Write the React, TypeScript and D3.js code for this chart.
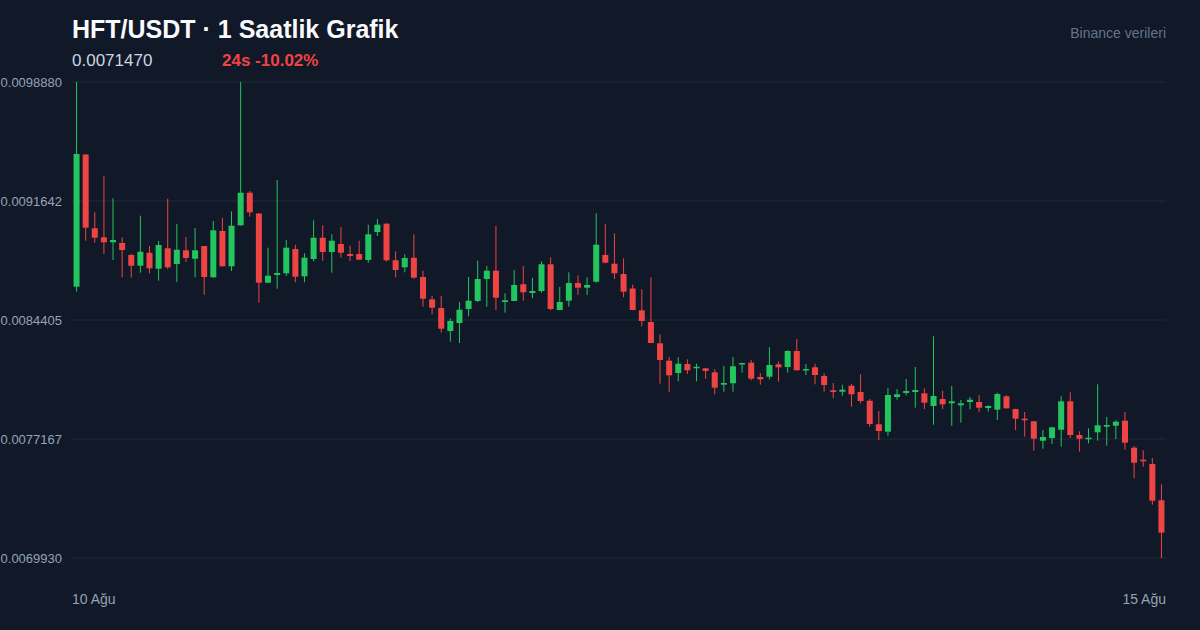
import * as d3 from "d3";

// saatlik mumlar, 10 Ağu - 15 Ağu (120 adet)
const opens = [
  0.0086430, 0.0094470, 0.0089982, 0.0089435, 0.0089131, 0.0089088, 0.0088358, 0.0087707, 0.0088498, 0.0087525,
  0.0088766, 0.0087811, 0.0088644, 0.0088133, 0.0088906, 0.0087002, 0.0089818, 0.0087671, 0.0090165, 0.0092147,
  0.0090882, 0.0086674, 0.0087142, 0.0087245, 0.0088723, 0.0087063, 0.0088115, 0.0089410, 0.0088541, 0.0089027,
  0.0088419, 0.0088419, 0.0088054, 0.0089757, 0.0090262, 0.0088036, 0.0087610, 0.0088194, 0.0087020, 0.0085664,
  0.0085135, 0.0083736, 0.0084223, 0.0085074, 0.0085561, 0.0086899, 0.0087403, 0.0085500, 0.0085561, 0.0086576,
  0.0086047, 0.0086169, 0.0087793, 0.0085013, 0.0085579, 0.0086655, 0.0086370, 0.0086734, 0.0088358, 0.0087829,
  0.0087203, 0.0086321, 0.0084995, 0.0084283, 0.0082988, 0.0081930, 0.0081182, 0.0081729, 0.0081467, 0.0081467,
  0.0081224, 0.0080470, 0.0080556, 0.0081711, 0.0081808, 0.0080938, 0.0080957, 0.0081711, 0.0081547, 0.0082520,
  0.0081346, 0.0081528, 0.0080999, 0.0080130, 0.0080044, 0.0080409, 0.0080026, 0.0079497, 0.0078062, 0.0077612,
  0.0079722, 0.0079965, 0.0080026, 0.0079947, 0.0079175, 0.0079600, 0.0079339, 0.0079217, 0.0079418, 0.0079418,
  0.0079053, 0.0078950, 0.0079765, 0.0078992, 0.0078402, 0.0078244, 0.0077064, 0.0077228, 0.0077733, 0.0079460,
  0.0077411, 0.0077149, 0.0077575, 0.0077916, 0.0077976, 0.0078281, 0.0076639, 0.0075909, 0.0075647, 0.0073440,
];
const highs = [
  0.0098880, 0.0094501, 0.0090955, 0.0093163, 0.0091807, 0.0089435, 0.0088419, 0.0090748, 0.0088906, 0.0089210,
  0.0091782, 0.0090244, 0.0089453, 0.0090000, 0.0088906, 0.0090426, 0.0090609, 0.0091016, 0.0098880, 0.0092251,
  0.0090900, 0.0088802, 0.0092920, 0.0089271, 0.0088985, 0.0088462, 0.0090469, 0.0090165, 0.0089617, 0.0090061,
  0.0088924, 0.0089228, 0.0090201, 0.0090548, 0.0090286, 0.0088583, 0.0088401, 0.0089617, 0.0087403, 0.0085865,
  0.0085865, 0.0084508, 0.0085500, 0.0087020, 0.0088012, 0.0087689, 0.0090122, 0.0086029, 0.0087446, 0.0087689,
  0.0086978, 0.0087975, 0.0088218, 0.0086412, 0.0087306, 0.0087124, 0.0087002, 0.0090895, 0.0090244, 0.0089678,
  0.0088158, 0.0086552, 0.0086272, 0.0087002, 0.0083535, 0.0082155, 0.0082137, 0.0082015, 0.0081747, 0.0081480,
  0.0081407, 0.0081607, 0.0082155, 0.0081800, 0.0081972, 0.0081182, 0.0082745, 0.0081893, 0.0082562, 0.0083250,
  0.0081729, 0.0081747, 0.0081164, 0.0080574, 0.0080470, 0.0080513, 0.0081103, 0.0079600, 0.0078870, 0.0080269,
  0.0080209, 0.0080817, 0.0081547, 0.0080251, 0.0083414, 0.0080105, 0.0080391, 0.0079540, 0.0079722, 0.0079843,
  0.0079217, 0.0079984, 0.0079825, 0.0079000, 0.0078810, 0.0078260, 0.0077715, 0.0077897, 0.0079765, 0.0080008,
  0.0077636, 0.0077818, 0.0080494, 0.0078506, 0.0078305, 0.0078810, 0.0076742, 0.0076480, 0.0076012, 0.0074412,
];
const lows = [
  0.0086126, 0.0089228, 0.0089106, 0.0088419, 0.0088054, 0.0087002, 0.0086978, 0.0087282, 0.0087245, 0.0086795,
  0.0087507, 0.0086716, 0.0087933, 0.0087002, 0.0085944, 0.0086990, 0.0087660, 0.0087385, 0.0090150, 0.0090688,
  0.0085457, 0.0086660, 0.0086309, 0.0087081, 0.0086698, 0.0086698, 0.0087975, 0.0088012, 0.0087282, 0.0088194,
  0.0087993, 0.0088060, 0.0087890, 0.0089514, 0.0087951, 0.0087002, 0.0087306, 0.0086917, 0.0085214, 0.0084752,
  0.0083633, 0.0083085, 0.0083006, 0.0084630, 0.0085500, 0.0085214, 0.0085013, 0.0084849, 0.0085550, 0.0085579,
  0.0085725, 0.0086065, 0.0084995, 0.0085000, 0.0085214, 0.0085926, 0.0085926, 0.0086674, 0.0087854, 0.0086899,
  0.0085786, 0.0085000, 0.0084022, 0.0083000, 0.0080531, 0.0080008, 0.0080677, 0.0081121, 0.0080677, 0.0080835,
  0.0079886, 0.0080044, 0.0080044, 0.0081200, 0.0080738, 0.0080470, 0.0080798, 0.0080653, 0.0081200, 0.0081330,
  0.0081060, 0.0080494, 0.0080044, 0.0079643, 0.0079801, 0.0079132, 0.0079339, 0.0077916, 0.0077107, 0.0077368,
  0.0079558, 0.0079825, 0.0079071, 0.0078992, 0.0078037, 0.0078992, 0.0077976, 0.0078159, 0.0078974, 0.0078792,
  0.0078828, 0.0078323, 0.0079020, 0.0077715, 0.0077308, 0.0076456, 0.0076578, 0.0076863, 0.0076699, 0.0077228,
  0.0076395, 0.0076906, 0.0077064, 0.0076760, 0.0077168, 0.0076517, 0.0074796, 0.0075483, 0.0073172, 0.0069930,
];
const closes = [
  0.0094501, 0.0090019, 0.0089410, 0.0089131, 0.0089271, 0.0088662, 0.0087707, 0.0088559, 0.0087549, 0.0088967,
  0.0087610, 0.0088681, 0.0088176, 0.0088644, 0.0087020, 0.0089860, 0.0087671, 0.0090140, 0.0092147, 0.0090955,
  0.0086674, 0.0087099, 0.0087264, 0.0088802, 0.0087039, 0.0088194, 0.0089410, 0.0088541, 0.0089228, 0.0088498,
  0.0088298, 0.0088073, 0.0089617, 0.0090201, 0.0088036, 0.0087446, 0.0088176, 0.0086978, 0.0085700, 0.0085153,
  0.0083876, 0.0084344, 0.0085031, 0.0085579, 0.0086899, 0.0087403, 0.0085761, 0.0085603, 0.0086534, 0.0086090,
  0.0086169, 0.0087793, 0.0085074, 0.0085500, 0.0086655, 0.0086370, 0.0086534, 0.0088985, 0.0087890, 0.0087245,
  0.0086126, 0.0085013, 0.0084344, 0.0083006, 0.0081972, 0.0081042, 0.0081747, 0.0081346, 0.0081565, 0.0081303,
  0.0080288, 0.0080574, 0.0081589, 0.0081790, 0.0080835, 0.0080798, 0.0081668, 0.0081528, 0.0082520, 0.0081346,
  0.0081425, 0.0081060, 0.0080452, 0.0080026, 0.0080166, 0.0079886, 0.0079479, 0.0078080, 0.0077654, 0.0079843,
  0.0079886, 0.0080087, 0.0080148, 0.0079375, 0.0079783, 0.0079278, 0.0079460, 0.0079339, 0.0079558, 0.0079071,
  0.0079175, 0.0079905, 0.0079035, 0.0078402, 0.0078305, 0.0077186, 0.0077289, 0.0077879, 0.0079460, 0.0077411,
  0.0077186, 0.0077247, 0.0078001, 0.0078019, 0.0078220, 0.0076943, 0.0075726, 0.0075811, 0.0073415, 0.0071470,
];

const yTicks = [0.009888, 0.0091642, 0.0084405, 0.0077167, 0.006993];
const xLabels = ["10 Ağu", "15 Ağu"];
const lastPrice = "0.0071470";
const change = "24s -10.02%";

const W = 1200;
const H = 630;
const margin = { top: 82, right: 34, bottom: 72, left: 72 };
const font = "'Liberation Sans', Arial, sans-serif";
const up = "#22c55e";
const down = "#ef4444";

export default function App() {
  const idx = d3.range(opens.length);
  const x = d3
    .scaleBand<number>()
    .domain(idx)
    .range([margin.left, W - margin.right])
    .paddingInner(0.34)
    .paddingOuter(0.17);
  const y = d3
    .scaleLinear()
    .domain([d3.min(lows)!, d3.max(highs)!])
    .range([H - margin.bottom, margin.top]);
  const bw = x.bandwidth();

  return (
    <>
      <style>{"body{margin:0;background:#111827}"}</style>
      <svg width={W} height={H} style={{ display: "block", fontFamily: font }}>
        <rect width={W} height={H} fill="#111827" />
        <text x={72} y={38} fontSize={25} fontWeight="bold" fill="#f8fafc">
          HFT/USDT · 1 Saatlik Grafik
        </text>
        <text x={72} y={66} fontSize={17} fill="#cbd5e1">
          {lastPrice}
        </text>
        <text x={222} y={66} fontSize={17} fontWeight="bold" fill={down}>
          {change}
        </text>
        <text x={W - margin.right} y={38} fontSize={14} fill="#64748b" textAnchor="end">
          Binance verileri
        </text>

        {yTicks.map((t) => (
          <g key={t}>
            <line
              x1={margin.left}
              x2={W - margin.right}
              y1={y(t)}
              y2={y(t)}
              stroke="#1f2a3a"
              strokeWidth={1}
            />
            <text x={62} y={y(t) + 4.5} fontSize={13} fill="#94a3b8" textAnchor="end">
              {t.toFixed(7)}
            </text>
          </g>
        ))}

        {idx.map((i) => {
          const o = opens[i];
          const c = closes[i];
          const col = c >= o ? up : down;
          const cx = x(i)! + bw / 2;
          const top = y(Math.max(o, c));
          const hgt = Math.max(1.5, y(Math.min(o, c)) - top);
          return (
            <g key={i}>
              <line x1={cx} x2={cx} y1={y(highs[i])} y2={y(lows[i])} stroke={col} strokeWidth={1} />
              <rect x={x(i)} y={top} width={bw} height={hgt} fill={col} />
            </g>
          );
        })}

        <text x={margin.left} y={604} fontSize={14} fill="#94a3b8">
          {xLabels[0]}
        </text>
        <text x={W - margin.right} y={604} fontSize={14} fill="#94a3b8" textAnchor="end">
          {xLabels[1]}
        </text>
      </svg>
    </>
  );
}
